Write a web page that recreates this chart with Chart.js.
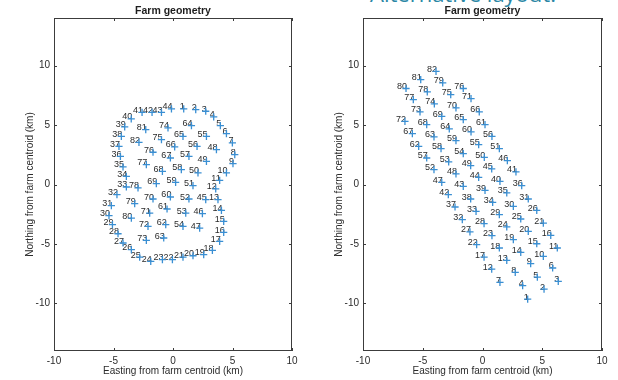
<!DOCTYPE html>
<html>
<head>
<meta charset="utf-8">
<script src="https://cdn.jsdelivr.net/npm/chart.js@4.4.0/dist/chart.umd.min.js"></script>
<style>
  html, body { margin: 0; padding: 0; background: #fff; }
  body { width: 618px; height: 380px; position: relative; overflow: hidden; }
  .panel { position: absolute; top: 0; width: 309px; height: 380px; }
  #heading { position: absolute; left: 370px; top: -18px; font: 400 22px/22px "Open Sans", sans-serif; color: #2b87a5; white-space: nowrap; }
</style>
</head>
<body>
<div id="heading">Alternative layout:</div>
<div class="panel" style="left:0"><canvas id="leftChart"></canvas></div>
<div class="panel" style="left:309px"><canvas id="rightChart"></canvas></div>
<script>
// farm positions (km), ordered by farm number 1..82
const leftX = [0.90, 1.91, 2.75, 3.42, 3.98, 4.49, 4.99, 5.19, 5.04, 4.49,
    3.92, 3.59, 3.78, 4.07, 4.26, 4.26, 3.92, 3.31, 2.58, 1.68,
    0.84, -0.05, -0.89, -1.87, -2.80, -3.50, -4.20, -4.62, -5.09, -5.38,
    -5.18, -4.71, -3.92, -3.92, -4.20, -4.42, -4.54, -4.34, -4.06, -3.51,
    -2.60, -1.76, -0.97, -0.13, 2.75, 2.47, 2.24, 3.65, 2.81, 2.10,
    1.68, 1.34, 1.07, 0.84, 2.81, 2.02, 1.34, 0.70, 0.22, -0.22,
    -0.50, -0.61, -0.78, 1.55, 0.84, 0.14, -0.22, -0.89, -1.40, -1.68,
    -1.96, -2.10, -2.24, -0.42, -0.97, -1.68, -2.24, -2.94, -3.22, -3.50,
    -2.29, -2.86];
const leftY = [6.36, 6.30, 6.16, 5.68, 4.95, 4.28, 3.50, 2.51, 1.75, 0.97,
    0.35, -0.37, -1.27, -2.17, -3.10, -4.02, -4.78, -5.54, -5.90, -5.99,
    -6.10, -6.32, -6.32, -6.46, -6.10, -5.48, -4.92, -4.14, -3.38, -2.62,
    -1.78, -0.85, -0.21, 0.69, 1.48, 2.37, 3.21, 4.05, 4.84, 5.52,
    6.07, 6.07, 6.07, 6.36, -1.27, -2.45, -3.66, 2.93, 1.95, 0.97,
    -0.10, -1.22, -2.40, -3.52, 4.05, 3.21, 2.37, 1.25, 0.18, -1.05,
    -2.06, -3.38, -4.50, 4.95, 4.05, 3.16, 2.23, 1.11, 0.07, -1.22,
    -2.40, -3.52, -4.70, 4.76, 3.77, 2.71, 1.67, -0.29, -1.61, -2.82,
    4.62, 3.55];

const rightX = [3.78, 5.15, 6.34, 3.36, 4.59, 5.87, 1.46, 2.74, 4.03, 5.09,
    6.26, 0.77, 2.03, 3.20, 4.54, 5.71, 0.13, 1.41, 2.58, 3.83,
    5.09, -0.49, 0.79, 2.03, 3.20, 4.54, -1.05, 0.13, 1.41, 2.58,
    3.83, -1.69, -0.54, 0.85, 2.03, 3.28, -2.30, -0.99, 0.21, 1.46,
    2.80, -2.86, -1.61, -0.32, 0.77, 2.08, -3.41, -2.22, -0.99, 0.15,
    1.41, -4.06, -2.83, -1.61, -0.32, 0.79, -4.67, -3.47, -2.22, -0.96,
    0.21, -5.34, -4.06, -2.78, -1.61, -0.27, -5.87, -4.67, -3.41, -2.22,
    -0.96, -6.49, -5.23, -4.03, -2.66, -1.61, -5.79, -4.62, -3.33, -6.40,
    -5.17, -3.89];
const rightY = [-9.63, -8.79, -8.15, -8.51, -7.78, -7.02, -8.23, -7.39, -6.66, -6.05,
    -5.34, -7.11, -6.38, -5.71, -4.98, -4.28, -6.10, -5.34, -4.64, -3.94,
    -3.24, -5.06, -4.30, -3.57, -2.90, -2.18, -3.99, -3.29, -2.54, -1.84,
    -1.22, -2.96, -2.26, -1.50, -0.71, -0.10, -1.89, -1.22, -0.49, 0.27,
    1.06, -0.85, -0.16, 0.60, 1.31, 2.01, 0.18, 0.89, 1.59, 2.28,
    3.02, 1.25, 1.90, 2.60, 3.35, 4.05, 2.23, 3.02, 3.69, 4.42,
    5.04, 3.21, 4.00, 4.67, 5.46, 6.10, 4.28, 5.04, 5.73, 6.44,
    7.22, 5.31, 6.10, 6.78, 7.56, 8.07, 7.14, 7.79, 8.54, 8.07,
    8.82, 9.52];

const xTicks = [-10, -5, 0, 5, 10];
const yTicks = [-10, -5, 0, 5, 10];

const fontFamily = '"Liberation Sans", Arial, sans-serif';
const markerColor = '#3a8fd3';
const textColor = '#2b2b2b';

// farm numbers next to each marker (drawn under the crosses)
const farmLabels = {
    id: 'farmLabels',
    beforeDatasetsDraw(chart) {
        const ctx = chart.ctx;
        const pts = chart.getDatasetMeta(0).data;
        ctx.save();
        ctx.font = '9px ' + fontFamily;
        ctx.fillStyle = textColor;
        ctx.textAlign = 'right';
        ctx.textBaseline = 'alphabetic';
        pts.forEach(function (pt, i) {
            ctx.fillText(String(i + 1), pt.x + 1, pt.y + 0.5);
        });
        ctx.restore();
    }
};

// box around the axes, inward ticks on all sides, panel title
const axesBox = {
    id: 'axesBox',
    afterDraw(chart) {
        const ctx = chart.ctx;
        const a = chart.chartArea;
        const sx = chart.scales.x, sy = chart.scales.y;
        ctx.save();
        ctx.strokeStyle = '#3c3c3c';
        ctx.lineWidth = 1;
        ctx.strokeRect(a.left + 0.5, a.top + 0.5, a.right - a.left - 1, a.bottom - a.top - 1);
        ctx.beginPath();
        sx.ticks.forEach(function (t) {
            const x = Math.round(sx.getPixelForValue(t.value)) + 0.5;
            ctx.moveTo(x, a.bottom); ctx.lineTo(x, a.bottom - 3);
            ctx.moveTo(x, a.top); ctx.lineTo(x, a.top + 3);
        });
        sy.ticks.forEach(function (t) {
            const y = Math.round(sy.getPixelForValue(t.value)) + 0.5;
            ctx.moveTo(a.left, y); ctx.lineTo(a.left + 3, y);
            ctx.moveTo(a.right, y); ctx.lineTo(a.right - 3, y);
        });
        ctx.stroke();
        ctx.font = 'bold 10.5px ' + fontFamily;
        ctx.fillStyle = '#1e1e1e';
        ctx.textAlign = 'center';
        ctx.textBaseline = 'middle';
        ctx.fillText('Farm geometry', (a.left + a.right) / 2, 11);
        ctx.restore();
    }
};

function makeChart(canvasId, xs, ys, rightPad) {
    const ctx = document.getElementById(canvasId).getContext('2d');
    return new Chart(ctx, {
        type: 'scatter',
        data: {
            datasets: [{
                label: 'Farms',
                data: xs.map(function (x, i) { return { x: x, y: ys[i] }; }),
                pointStyle: 'cross',
                pointRadius: 3.6,
                pointHoverRadius: 3.6,
                borderColor: markerColor,
                backgroundColor: markerColor,
                pointBorderWidth: 1.3
            }]
        },
        options: {
            responsive: true,
            maintainAspectRatio: false,
            animation: false,
            layout: { padding: { left: 0, right: rightPad, top: 18, bottom: 0 } },
            scales: {
                x: {
                    type: 'linear',
                    min: -10,
                    max: 10,
                    afterBuildTicks: function (s) { s.ticks = xTicks.map(function (v) { return { value: v }; }); },
                    afterFit: function (s) { s.height = 29; },
                    grid: { display: false, drawTicks: false },
                    border: { display: false },
                    ticks: { color: textColor, font: { size: 10, family: fontFamily }, padding: 4, maxRotation: 0 },
                    title: {
                        display: true,
                        text: 'Easting from farm centroid (km)',
                        color: textColor,
                        font: { size: 10, family: fontFamily },
                        padding: { top: 0, bottom: 3 }
                    }
                },
                y: {
                    type: 'linear',
                    min: -14,
                    max: 14,
                    afterBuildTicks: function (s) { s.ticks = yTicks.map(function (v) { return { value: v }; }); },
                    afterFit: function (s) { s.width = 54; },
                    grid: { display: false, drawTicks: false },
                    border: { display: false },
                    ticks: { color: textColor, font: { size: 10, family: fontFamily }, padding: 4 },
                    title: {
                        display: true,
                        text: 'Northing from farm centroid (km)',
                        color: textColor,
                        font: { size: 10, family: fontFamily },
                        padding: { top: 24, bottom: 0 }
                    }
                }
            },
            plugins: {
                legend: { display: false },
                tooltip: { enabled: false }
            }
        },
        plugins: [farmLabels, axesBox]
    });
}

makeChart('leftChart', leftX, leftY, 17);
makeChart('rightChart', rightX, rightY, 16);
</script>
</body>
</html>
